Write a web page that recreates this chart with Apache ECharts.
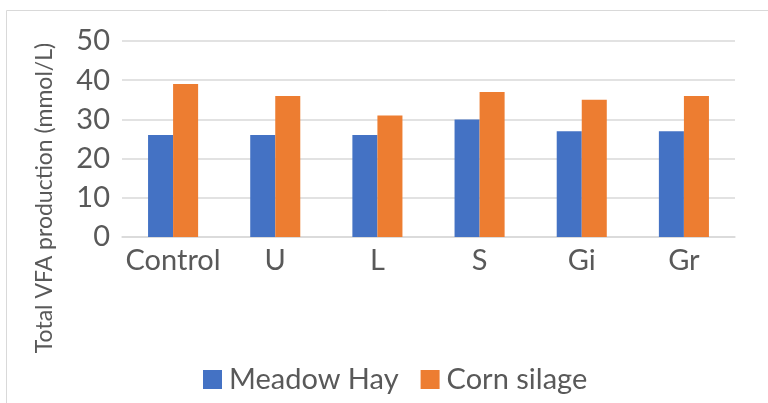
<!DOCTYPE html>
<html>
<head>
<meta charset="utf-8">
<script src="https://cdn.jsdelivr.net/npm/echarts@6/dist/echarts.min.js"></script>
<style>
html, body { margin: 0; padding: 0; background: #fff; }
#chart { width: 768px; height: 403px; }
</style>
</head>
<body>
<div id="chart"></div>
<script>
var categories = ['Control', 'U', 'L', 'S', 'Gi', 'Gr'];
var seriesNames = ['Meadow Hay', 'Corn silage'];
var meadowHay = [26, 26, 26, 30, 27, 27];
var cornSilage = [39, 36, 31, 37, 35, 36];
var colors = ['#4472c4', '#ed7d31'];

var fontFam = 'Lato, "Open Sans", sans-serif';

var myChart = echarts.init(document.getElementById('chart'));
var option = {
    animation: false,
    textStyle: { fontFamily: fontFam },
    graphic: [
        {
            type: 'rect',
            shape: { x: 6.5, y: 10.5, width: 780, height: 420 },
            style: { fill: 'none', stroke: '#d9d9d9', lineWidth: 1 }
        },
        {
            type: 'text',
            x: 45,
            y: 198,
            rotation: Math.PI / 2,
            style: {
                text: 'Total VFA production (mmol/L)',
                fill: '#595959',
                font: '23px ' + fontFam,
                align: 'center',
                verticalAlign: 'middle'
            }
        }
    ],
    legend: {
        data: seriesNames,
        bottom: 4,
        left: 198,
        itemWidth: 19,
        itemHeight: 19,
        itemGap: 22,
        icon: 'rect',
        textStyle: { color: '#595959', fontSize: 29, padding: [0, 0, 0, 2] }
    },
    grid: {
        left: 122,
        right: 33,
        top: 41,
        bottom: 166
    },
    xAxis: {
        type: 'category',
        data: categories,
        axisTick: { show: false },
        axisLine: { lineStyle: { color: '#d9d9d9', width: 1.5 } },
        axisLabel: { color: '#595959', fontSize: 29, margin: 9, interval: 0 }
    },
    yAxis: {
        type: 'value',
        min: 0,
        max: 50,
        interval: 10,
        axisLine: { show: false },
        axisTick: { show: false },
        axisLabel: { color: '#595959', fontSize: 29, margin: 12 },
        splitLine: { lineStyle: { color: '#d9d9d9', width: 1.5 } }
    },
    series: [
        {
            name: seriesNames[0],
            type: 'bar',
            data: meadowHay,
            barGap: '0%',
            barCategoryGap: '51%',
            itemStyle: { color: colors[0] }
        },
        {
            name: seriesNames[1],
            type: 'bar',
            data: cornSilage,
            barGap: '0%',
            barCategoryGap: '51%',
            itemStyle: { color: colors[1] }
        }
    ]
};
myChart.setOption(option);
window.addEventListener('resize', function () {
    myChart.resize();
});
</script>
</body>
</html>
